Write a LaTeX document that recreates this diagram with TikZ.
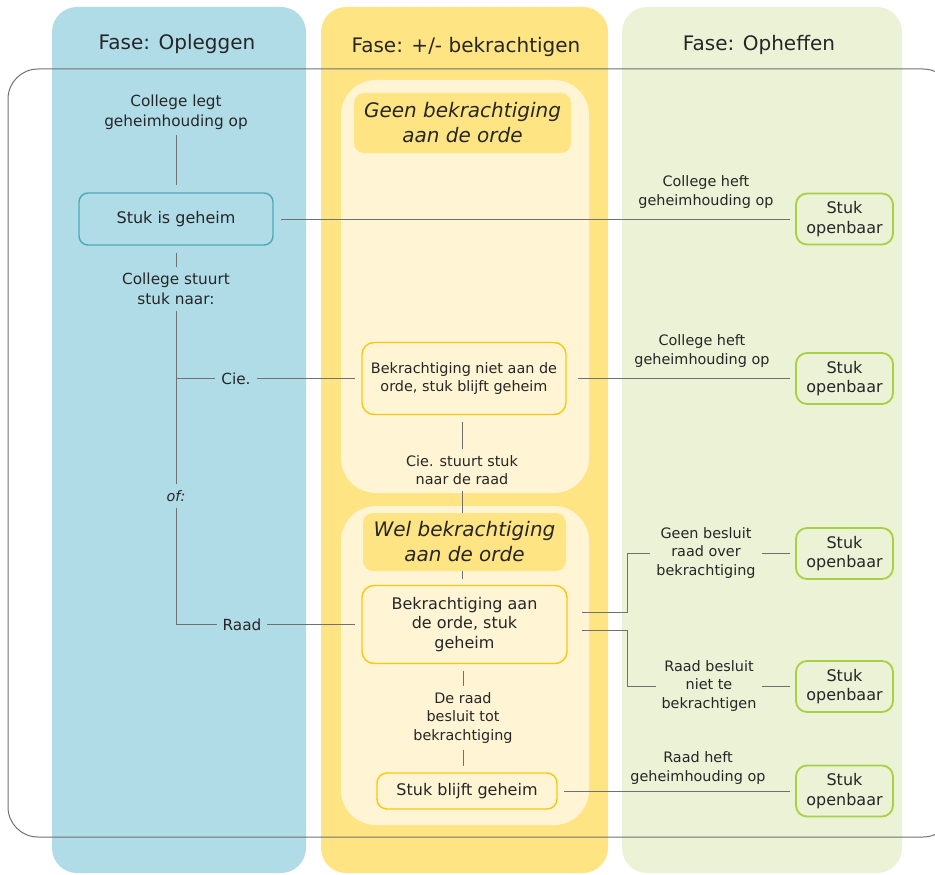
\documentclass[tikz,border=0pt]{standalone}
\usepackage{fontspec}
\setmainfont{DejaVu Sans}
\usetikzlibrary{calc}
\definecolor{colblue}{HTML}{B0DCE8}
\definecolor{colyel}{HTML}{FFE483}
\definecolor{panel}{HTML}{FFF4D3}
\definecolor{colgreen}{HTML}{EBF2D6}
\definecolor{tealb}{HTML}{4AABB6}
\definecolor{ybord}{HTML}{F9C80E}
\definecolor{gbord}{HTML}{A8CF45}
\definecolor{txt}{HTML}{262626}
\definecolor{linec}{HTML}{707070}
\newcommand\fsTitle{\fontsize{20}{25}\selectfont}
\newcommand\fsBig{\fontsize{16}{19.5}\selectfont}
\newcommand\fsMid{\fontsize{15.3}{20}\selectfont}
\newcommand\fsSmall{\fontsize{14.4}{18.7}\selectfont}
\begin{document}
\begin{tikzpicture}[x=1pt,y=-1pt,
  lbl/.style={align=center, inner sep=0pt, outer sep=6pt, text=txt},
  conn/.style={draw=linec, line width=1pt},
  tbox/.style={draw=tealb, line width=1.4pt, rounded corners=9pt, align=center, text=txt, outer sep=8pt, inner sep=0pt},
  ybox/.style={draw=ybord, fill=panel, line width=1.4pt, rounded corners=12pt, align=center, text=txt, outer sep=7pt, inner sep=0pt},
  obox/.style={draw=gbord, line width=1.8pt, rounded corners=11pt, align=center, text=txt, outer sep=6pt, inner sep=0pt, minimum width=97pt, minimum height=51pt, font=\fsBig},
  hdr/.style={fill=colyel, rounded corners=10pt, align=center, text=txt, inner sep=0pt, font=\fsTitle\itshape}
]
\clip (0,0) rectangle (935,875);
% columns
\fill[colblue, rounded corners=25pt] (52,7) rectangle (306,873);
\fill[colyel, rounded corners=25pt] (321,7) rectangle (608,873);
\fill[colgreen, rounded corners=25pt] (622,7) rectangle (902,873);
% panels
\fill[panel, rounded corners=35pt] (341,80) rectangle (589,493);
\fill[panel, rounded corners=35pt] (341,506) rectangle (589,825);
% outer frame
\draw[linec, line width=1pt, rounded corners=30pt] (8,69) rectangle (953,837);
% titles
\node[lbl, font=\fsTitle] (t1) at (177,44) {Fase: Opleggen};
\node[lbl, font=\fsTitle] (t2) at (466,47) {Fase: +/- bekrachtigen};
\node[lbl, font=\fsTitle] (t3) at (759,45) {Fase: Opheffen};
% left column
\node[lbl, font=\fsMid] (legt) at (176,112) {College legt\\geheimhouding op};
\node[tbox, minimum width=194pt, minimum height=52pt, font=\fsBig] (geheim) at (176,219) {Stuk is geheim};
\node[lbl, font=\fsMid] (stuurt) at (176,289) {College stuurt\\stuk naar:};
\node[lbl, font=\fsSmall\itshape] (of) at (176,496) {of:};
\node[lbl, font=\fsMid] (cie) at (236,378.5) {Cie.};
\node[lbl, font=\fsMid] (raad) at (242,624.5) {Raad};
\coordinate (ciejoin) at (176,378.5);
\coordinate (raadcorner) at (176,624.5);
% middle column
\node[ybox, minimum width=204pt, minimum height=72pt, font=\fsSmall] (bniet) at (464,378.5) {Bekrachtiging niet aan de\\orde, stuk blijft geheim};
\node[lbl, font=\fsSmall] (naar) at (462,470) {Cie. stuurt stuk\\naar de raad};
\node[ybox, minimum width=205pt, minimum height=78pt, font=\fsBig] (baan) at (464.5,624.5) {Bekrachtiging aan\\de orde, stuk\\geheim};
\node[lbl, font=\fsSmall] (raadb) at (463,718) {De raad\\besluit tot\\bekrachtiging};
\node[ybox, minimum width=180pt, minimum height=36pt, rounded corners=10pt, font=\fsBig] (bgeheim) at (467,791) {Stuk blijft geheim};
% right column
\node[obox] (open1) at (844.5,219) {Stuk\\openbaar};
\node[obox] (open2) at (844.5,378.5) {Stuk\\openbaar};
\node[obox] (open3) at (844.5,553.5) {Stuk\\openbaar};
\node[obox] (open4) at (844.5,686.5) {Stuk\\openbaar};
\node[obox] (open5) at (844.5,791) {Stuk\\openbaar};
\node[lbl, font=\fsSmall] (heft1) at (706,192) {College heft\\geheimhouding op};
\node[lbl, font=\fsSmall] (heft2) at (702,351) {College heft\\geheimhouding op};
\node[lbl, font=\fsSmall] (geen) at (706,553) {Geen besluit\\raad over\\bekrachtiging};
\node[lbl, font=\fsSmall] (nietb) at (709,686) {Raad besluit\\niet te\\bekrachtigen};
\node[lbl, font=\fsSmall] (raadheft) at (698,768) {Raad heft\\geheimhouding op};
% connectors
\draw[conn] (legt) -- (geheim);
\draw[conn] (geheim) -- (stuurt);
\draw[conn] (stuurt) -- (of);
\draw[conn] (of) -- (raadcorner) -- (raad);
\draw[conn] (ciejoin) -- (cie);
\draw[conn] (cie) -- (cie -| bniet.west);
\draw[conn] (raad) -- (raad -| baan.west);
\draw[conn] (bniet.south -| naar.north) -- (naar.north);
\draw[conn] (naar.south) -- (naar.south |- baan.north);
\draw[conn] (baan.south -| raadb.north) -- (raadb.north);
\draw[conn] (raadb.south) -- (raadb.south |- bgeheim.north);
\draw[conn] (geheim) -- (geheim -| open1.west);
\draw[conn] ([xshift=5pt]bniet.east) -- (bniet -| open2.west);
\draw[conn] ([shift={(8,-12)}]baan.east) -- ++(45,0) |- (geen.west);
\draw[conn] ([shift={(8,6)}]baan.east) -- ++(45,0) |- (nietb.west);
\draw[conn] (geen.east) -- (geen.east -| open3.west);
\draw[conn] (nietb.east) -- (nietb.east -| open4.west);
\draw[conn] (bgeheim) -- (bgeheim -| open5.west);
% section headers (over the connector)
\node[hdr, minimum width=217pt, minimum height=60pt] (hgeen) at (462.5,123) {Geen bekrachtiging\\aan de orde};
\node[hdr, minimum width=203pt, minimum height=58pt] (hwel) at (464.5,542) {Wel bekrachtiging\\aan de orde};
\end{tikzpicture}
\end{document}
